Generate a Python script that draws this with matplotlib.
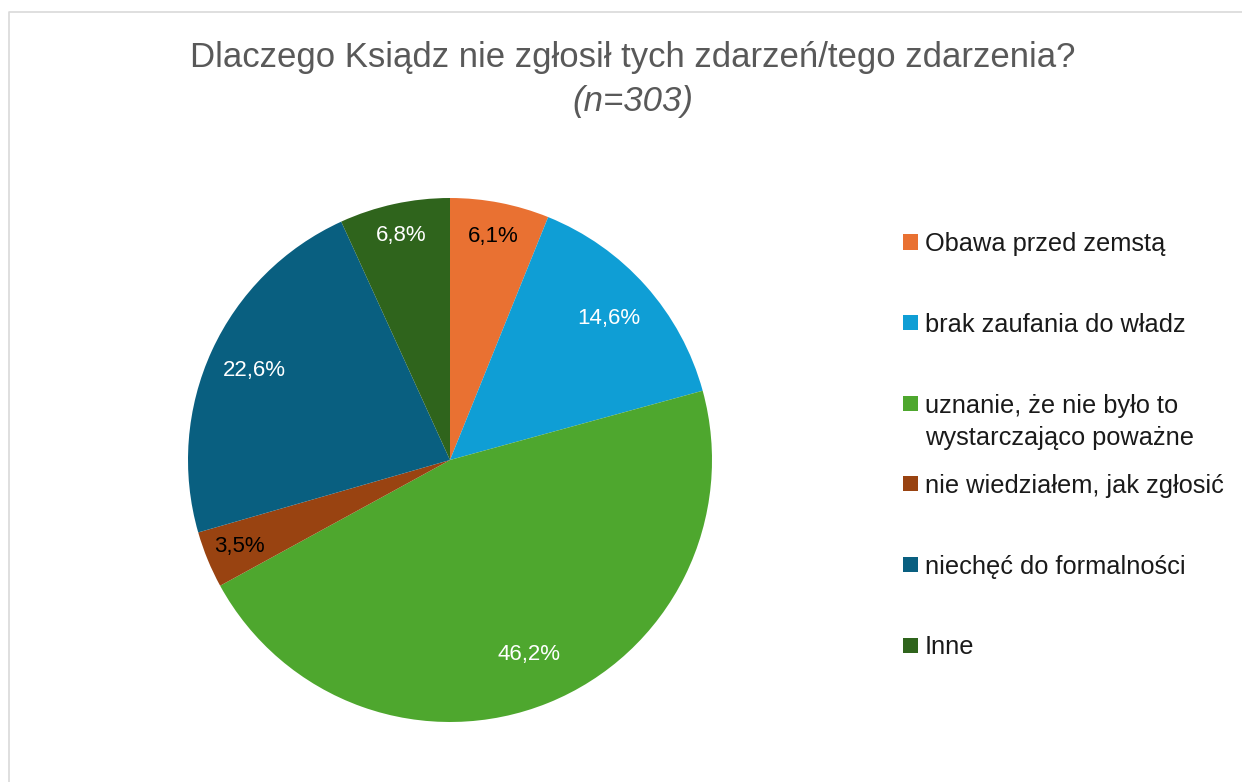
import matplotlib.pyplot as plt
from matplotlib.lines import Line2D
from matplotlib.patches import Rectangle
import numpy as np

plt.rcParams['font.family'] = ['Liberation Sans', 'DejaVu Sans']

# data
labels = ['Obawa przed zemstą', 'brak zaufania do władz',
          'uznanie, że nie było to\nwystarczająco poważne',
          'nie wiedziałem, jak zgłosić', 'niechęć do formalności', 'Inne']
values = [6.1, 14.6, 46.2, 3.5, 22.6, 6.8]
colors = ['#E97132', '#0F9ED5', '#4EA72E', '#994311', '#095F80', '#2F641C']
label_colors = ['black', 'white', 'white', 'black', 'white', 'white']
label_dist = [0.87, 0.81, 0.80, 0.87, 0.82, 0.875]

W, H = 1242, 782
fig = plt.figure(figsize=(W / 100, H / 100), dpi=100)

# chart area border (top/left visible)
fig.add_artist(Line2D([9 / W, 9 / W, 1], [0, 1 - 12 / H, 1 - 12 / H],
                      transform=fig.transFigure, color='#D9D9D9', lw=1.2))

cx, cy, r = 450, 460, 262
ax = fig.add_axes([(cx - r) / W, (H - cy - r) / H, 2 * r / W, 2 * r / H])
wedges, _ = ax.pie(values, colors=colors, startangle=90, counterclock=False,
                   radius=1.0, wedgeprops=dict(linewidth=0))
ax.set_xlim(-1, 1)
ax.set_ylim(-1, 1)
ax.set_aspect('equal')
ax.axis('off')

for w, v, c, d in zip(wedges, values, label_colors, label_dist):
    ang = np.deg2rad((w.theta1 + w.theta2) / 2)
    ax.text(d * np.cos(ang), d * np.sin(ang), f'{v:.1f}%'.replace('.', ','),
            ha='center', va='center', color=c, fontsize=16)

fig.text(633 / W, 1 - 58 / H, 'Dlaczego Ksiądz nie zgłosił tych zdarzeń/tego zdarzenia?',
         ha='center', va='center', fontsize=25, color='#595959')
fig.text(633 / W, 1 - 101 / H, '(n=303)', ha='center', va='center',
         fontsize=25, color='#595959', style='italic')

# legend drawn by hand so multi-line entry keeps its marker on the first line
ly0, lstep, sq, line_h = 242, 80.6, 15, 32
for i, (lab, col) in enumerate(zip(labels, colors)):
    y = ly0 + i * lstep
    fig.add_artist(Rectangle(((903) / W, 1 - (y + sq / 2) / H), sq / W, sq / H,
                             transform=fig.transFigure, color=col, lw=0))
    for k, part in enumerate(lab.split('\n')):
        fig.text(925 / W, 1 - (y + k * line_h) / H, part, ha='left',
                 va='center_baseline', fontsize=18.3, color='#1A1A1A')

fig.savefig('out.png', dpi=100)
